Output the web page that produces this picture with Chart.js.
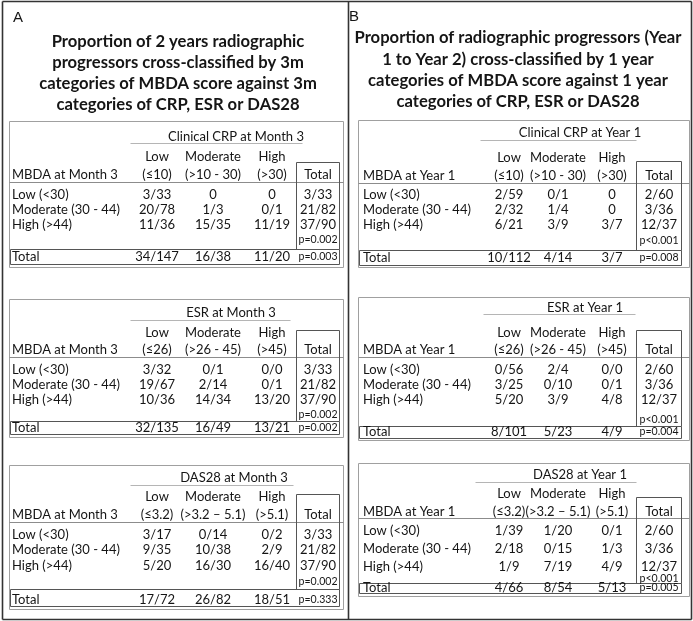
<!DOCTYPE html>
<html>
<head>
<meta charset="utf-8">
<script src="https://cdn.jsdelivr.net/npm/chart.js@4/dist/chart.umd.min.js"></script>
<style>
  html,body{margin:0;padding:0;background:#fff;}
  #wrap{position:relative;width:693px;height:621px;}
</style>
</head>
<body>
<div id="wrap"><canvas id="c" width="693" height="621"></canvas></div>
<script>
// ---------------- DATA ----------------
const panelLetters = ['A', 'B'];
const titleA = ['Proportion of 2 years radiographic', 'progressors cross-classified by 3m', 'categories of MBDA score against 3m', 'categories of CRP, ESR or DAS28'];
const titleB = ['Proportion of radiographic progressors (Year', '1 to Year 2) cross-classified by 1 year', 'categories of MBDA score against 1 year', 'categories of CRP, ESR or DAS28'];
const timepoints = ['Month 3', 'Year 1'];
const markers = ['Clinical CRP', 'ESR', 'DAS28'];
const levelNames = ['Low', 'Moderate', 'High'];
const crpRanges = ['(\u226410)', '(>10 - 30)', '(>30)'];
const esrRanges = ['(\u226426)', '(>26 - 45)', '(>45)'];
const das28Ranges = ['(\u22643.2)', '(>3.2 \u2013 5.1)', '(>5.1)'];
const mbdaRows = ['Low (<30)', 'Moderate (30 - 44)', 'High (>44)'];
const totalLabel = 'Total';

// Month 3 (panel A)
const crpMonth3 = [['3/33', '0', '0'], ['20/78', '1/3', '0/1'], ['11/36', '15/35', '11/19']];
const crpMonth3ColTotals = ['34/147', '16/38', '11/20'];
const esrMonth3 = [['3/32', '0/1', '0/0'], ['19/67', '2/14', '0/1'], ['10/36', '14/34', '13/20']];
const esrMonth3ColTotals = ['32/135', '16/49', '13/21'];
const das28Month3 = [['3/17', '0/14', '0/2'], ['9/35', '10/38', '2/9'], ['5/20', '16/30', '16/40']];
const das28Month3ColTotals = ['17/72', '26/82', '18/51'];
const mbdaMonth3RowTotals = ['3/33', '21/82', '37/90'];
const pMbdaMonth3 = ['p=0.002', 'p=0.002', 'p=0.002'];
const pMarkerMonth3 = ['p=0.003', 'p=0.002', 'p=0.333'];

// Year 1 (panel B)
const crpYear1 = [['2/59', '0/1', '0'], ['2/32', '1/4', '0'], ['6/21', '3/9', '3/7']];
const crpYear1ColTotals = ['10/112', '4/14', '3/7'];
const esrYear1 = [['0/56', '2/4', '0/0'], ['3/25', '0/10', '0/1'], ['5/20', '3/9', '4/8']];
const esrYear1ColTotals = ['8/101', '5/23', '4/9'];
const das28Year1 = [['1/39', '1/20', '0/1'], ['2/18', '0/15', '1/3'], ['1/9', '7/19', '4/9']];
const das28Year1ColTotals = ['4/66', '8/54', '5/13'];
const mbdaYear1RowTotals = ['2/60', '3/36', '12/37'];
const pMbdaYear1 = ['p<0.001', 'p<0.001', 'p<0.001'];
const pMarkerYear1 = ['p=0.008', 'p=0.004', 'p=0.005'];

// ---------------- TABLE DEFINITIONS (built from the arrays) ----------------
const rangesList = [crpRanges, esrRanges, das28Ranges];
const panelsData = [
  { letter: panelLetters[0], title: titleA, tp: timepoints[0], rowTotals: mbdaMonth3RowTotals, pRow: pMbdaMonth3, pCol: pMarkerMonth3,
    cells: [crpMonth3, esrMonth3, das28Month3], colTotals: [crpMonth3ColTotals, esrMonth3ColTotals, das28Month3ColTotals] },
  { letter: panelLetters[1], title: titleB, tp: timepoints[1], rowTotals: mbdaYear1RowTotals, pRow: pMbdaYear1, pCol: pMarkerYear1,
    cells: [crpYear1, esrYear1, das28Year1], colTotals: [crpYear1ColTotals, esrYear1ColTotals, das28Year1ColTotals] }
];

// ---------------- LAYOUT (positions / styles only) ----------------
const frame = { left: 2, top: 1, right: 691, bottom: 619, divider: 347.5 };
const panelLayout = [
  { letterX: 13, letterY: 22, titleCx: 178, titleBase: [47, 68, 89, 110],
    box: [9, 343], labelX: 12, cols: [157, 213, 272, 318], totBox: [296, 339],
    tables: [
      { top: 121, bottom: 267, hdr: 137, hdrCx: 236, ul: [130, 302, 143], sub1: 157, sub2: 175, hline: 182, rows: [195, 210, 225], p: 240, totTop: 249, tot: 257, totBottom: 264, colTop: 162 },
      { top: 299, bottom: 437, hdr: 313, hdrCx: 231, ul: [130, 290, 320], sub1: 333, sub2: 350, hline: 357, rows: [370, 385, 400], p: 415, totTop: 421, tot: 428, totBottom: 434, colTop: 330 },
      { top: 465, bottom: 609, hdr: 478, hdrCx: 234, ul: [130, 293, 485], sub1: 497, sub2: 515, hline: 522, rows: [535, 550, 566], p: 582, totTop: 589, tot: 600, totBottom: 606, colTop: 494 }
    ] },
  { letterX: 349, letterY: 21, titleCx: 518, titleBase: [43, 65, 86, 107],
    box: [358, 689], labelX: 363, cols: [509, 558, 612, 659], totBox: [636, 681],
    tables: [
      { top: 120, bottom: 267, hdr: 133, hdrCx: 580, ul: [480, 636, 140], sub1: 158, sub2: 176, hline: 183, rows: [195, 210, 225], p: 241, totTop: 250, tot: 258, totBottom: 265, colTop: 161 },
      { top: 297, bottom: 440, hdr: 308, hdrCx: 585, ul: [483, 635, 314], sub1: 333, sub2: 350, hline: 357, rows: [370, 385, 400], p: 420, totTop: 426, tot: 432, totBottom: 438, colTop: 330 },
      { top: 463, bottom: 596, hdr: 475, hdrCx: 580, ul: [475, 636, 482], sub1: 494, sub2: 512, hline: 518, rows: [531, 549, 567], p: 579, totTop: 583, tot: 588, totBottom: 593, colTop: 497 }
    ] }
];
// Font sizes are fitted so that reference sample strings reach the widths measured in the picture.
const style = {
  text: '#151515',
  bodyFamily: 'Lato, "DejaVu Sans", sans-serif', bodySample: 'Moderate (30 - 44)', bodyWidth: 108,
  smallSample: 'p=0.002', smallWidth: 39,
  titleFamily: 'Lato, "DejaVu Sans", sans-serif', titleSample: 'categories of MBDA score against 3m', titleWidth: 278,
  letterFont: '15px "Liberation Sans", Arial, sans-serif',
  frameColor: '#333', frameWidth: 1.6,
  boxColor: '#a0a0a0', ulColor: '#b5b5b5', hlineColor: '#8c8c8c', totColor: '#555'
};

function fitSize(ctx, weight, family, sample, width) {
  ctx.save(); ctx.font = weight + ' 100px ' + family;
  const w = ctx.measureText(sample).width; ctx.restore();
  return (100 * width / w).toFixed(2);
}

// ---------------- DRAWING PLUGIN ----------------
const tablePlugin = {
  id: 'tablePlugin',
  afterDraw(chart) {
    const ctx = chart.ctx;
    const bodyFont = fitSize(ctx, 'normal', style.bodyFamily, style.bodySample, style.bodyWidth) + 'px ' + style.bodyFamily;
    const smallFont = fitSize(ctx, 'normal', style.bodyFamily, style.smallSample, style.smallWidth) + 'px ' + style.bodyFamily;
    const titleFont = 'bold ' + fitSize(ctx, 'bold', style.titleFamily, style.titleSample, style.titleWidth) + 'px ' + style.titleFamily;
    const X = v => chart.scales.x.getPixelForValue(v);
    const Y = v => chart.scales.y.getPixelForValue(v);
    const line = (x1, y1, x2, y2, color, w) => {
      ctx.save(); ctx.strokeStyle = color; ctx.lineWidth = w || 1;
      ctx.beginPath(); ctx.moveTo(Math.round(X(x1)) + 0.5, Math.round(Y(y1)) + 0.5);
      ctx.lineTo(Math.round(X(x2)) + 0.5, Math.round(Y(y2)) + 0.5); ctx.stroke(); ctx.restore();
    };
    const rect = (x1, y1, x2, y2, color, w) => {
      line(x1, y1, x2, y1, color, w); line(x2, y1, x2, y2, color, w);
      line(x2, y2, x1, y2, color, w); line(x1, y2, x1, y1, color, w);
    };
    const text = (s, x, y, align, font, base) => {
      ctx.save(); ctx.fillStyle = style.text; ctx.font = font || bodyFont;
      ctx.textAlign = align || 'center'; ctx.textBaseline = base || 'middle';
      ctx.fillText(s, X(x), Y(y)); ctx.restore();
    };

    // outer frame
    rect(frame.left, frame.top, frame.right, frame.bottom, style.frameColor, style.frameWidth);
    line(frame.divider, frame.top, frame.divider, frame.bottom, style.frameColor, style.frameWidth);

    panelsData.forEach((pd, pi) => {
      const L = panelLayout[pi];
      text(pd.letter, L.letterX, L.letterY, 'left', style.letterFont, 'alphabetic');
      pd.title.forEach((t, i) => text(t, L.titleCx, L.titleBase[i], 'center', titleFont, 'alphabetic'));

      L.tables.forEach((T, ti) => {
        rect(L.box[0], T.top, L.box[1], T.bottom, style.boxColor, 1);
        line(T.ul[0], T.ul[2], T.ul[1], T.ul[2], style.ulColor, 1);
        line(L.box[0], T.hline, L.box[1], T.hline, style.hlineColor, 1);
        line(L.totBox[0], T.colTop, L.totBox[1], T.colTop, style.totColor, 1);
        line(L.totBox[0], T.colTop, L.totBox[0], T.totTop, style.totColor, 1);
        line(L.totBox[1], T.colTop, L.totBox[1], T.totTop, style.totColor, 1);
        rect(L.box[0] + 1, T.totTop, L.totBox[1], T.totBottom, style.totColor, 1);

        text(markers[ti] + ' at ' + pd.tp, T.hdrCx, T.hdr);
        levelNames.forEach((n, c) => text(n, L.cols[c], T.sub1));
        rangesList[ti].forEach((r, c) => text(r, L.cols[c], T.sub2));
        text('MBDA at ' + pd.tp, L.labelX, T.sub2, 'left');
        text(totalLabel, L.cols[3], T.sub2);

        mbdaRows.forEach((rl, r) => {
          text(rl, L.labelX, T.rows[r], 'left');
          pd.cells[ti][r].forEach((v, c) => text(v, L.cols[c], T.rows[r]));
          text(pd.rowTotals[r], L.cols[3], T.rows[r]);
        });
        text(pd.pRow[ti], L.cols[3], T.p, 'center', smallFont);

        text(totalLabel, L.labelX, T.tot, 'left');
        pd.colTotals[ti].forEach((v, c) => text(v, L.cols[c], T.tot));
        text(pd.pCol[ti], L.cols[3], T.tot, 'center', smallFont);
      });
    });
  }
};

new Chart(document.getElementById('c'), {
  type: 'scatter',
  data: { datasets: [] },
  options: {
    responsive: false,
    animation: false,
    devicePixelRatio: 1,
    layout: { padding: 0 },
    plugins: { legend: { display: false }, tooltip: { enabled: false }, title: { display: false } },
    scales: {
      x: { type: 'linear', min: 0, max: 693, display: false },
      y: { type: 'linear', min: 0, max: 621, reverse: true, display: false }
    }
  },
  plugins: [tablePlugin]
});
</script>
</body>
</html>
